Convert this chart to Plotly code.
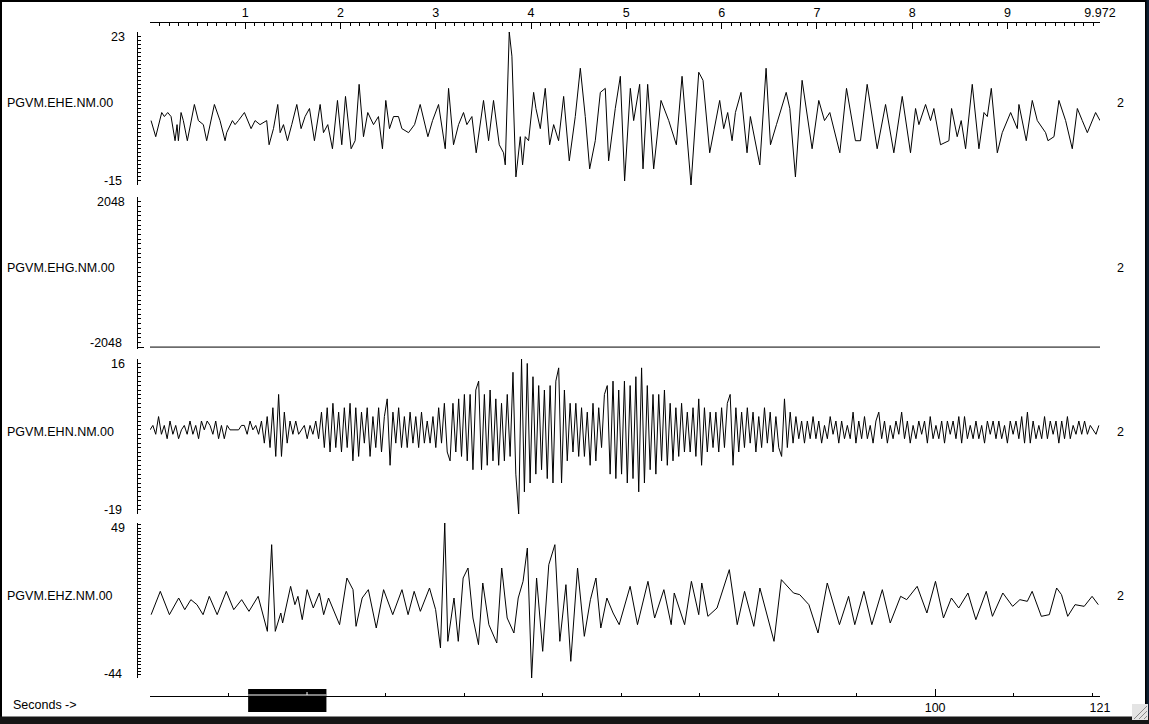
import plotly.graph_objects as go

# ---------------- data ----------------
channels = ["PGVM.EHE.NM.00", "PGVM.EHG.NM.00", "PGVM.EHN.NM.00", "PGVM.EHZ.NM.00"]
y_max = [23, 2048, 16, 49]
y_min = [-15, -2048, -19, -44]
right_labels = ["2", "2", "2", "2"]

duration = 9.972          # seconds shown
total_seconds = 121       # length of record
window_start = 12.5       # start of displayed window in record
top_ticks = [0, 1, 2, 3, 4, 5, 6, 7, 8, 9, 9.972]
top_tick_text = ["", "1", "2", "3", "4", "5", "6", "7", "8", "9", "9.972"]
half_ticks = [0.5, 1.5, 2.5, 3.5, 4.5, 5.5, 6.5, 7.5, 8.5, 9.5]
bottom_ticks = [0, 100, 121]
bottom_tick_text = ["", "100", "121"]

# EHE (extrema)
ehe_t = [0.011,0.060,0.123,0.151,0.186,0.221,0.263,0.284,0.298,0.326,0.350,0.392,0.466,0.508,0.560,0.595,0.676,0.735,0.788,0.805,
         0.865,0.893,0.928,0.991,1.061,1.103,1.155,1.225,1.250,1.296,1.341,1.366,1.401,1.443,1.488,1.541,1.586,1.628,1.674,1.726,
         1.786,1.821,1.866,1.915,1.968,1.996,2.013,2.052,2.111,2.153,2.195,2.241,2.286,2.346,2.398,2.440,2.475,2.514,2.556,2.608,
         2.644,2.714,2.777,2.836,2.917,2.966,3.029,3.099,3.134,3.186,3.239,3.291,3.326,3.379,3.424,3.501,3.554,3.606,3.666,3.711,
         3.729,3.771,3.799,3.841,3.887,3.911,3.939,3.974,4.027,4.051,4.097,4.149,4.195,4.237,4.289,4.342,4.401,4.464,4.517,4.569,
         4.615,4.674,4.727,4.779,4.814,4.884,4.937,4.982,
         5.042,5.077,5.105,5.140,5.175,5.224,5.287,5.364,5.445,5.497,
         5.525,5.585,5.679,5.760,5.805,5.875,5.980,6.022,6.064,6.110,
         6.145,6.204,6.267,6.302,6.401,6.467,6.513,6.576,6.678,6.716,
         6.775,6.845,6.950,7.020,7.080,7.136,7.241,7.311,7.405,7.458,
         7.528,7.633,7.721,7.808,7.896,7.983,8.036,8.071,8.141,8.193,
         8.228,8.298,8.386,8.414,8.473,8.515,8.561,8.631,8.701,8.754,
         8.789,8.831,8.894,8.946,9.034,9.104,9.121,9.198,9.261,9.314,
         9.401,9.426,9.489,9.541,9.611,9.681,9.734,9.786,9.839,9.926,
         9.972]
ehe_v = [1,-3,3,2,3,2,-4,0,-4,3, 1,-4,5,1,0,-4,5,1,-4,-2, 1,0,1,3,-1,1,0,1,-5,-1, 5,-2,0,-4,0,5,-1,2,4,-4,
         5,-2,0,-6,6,0,-5,7,-6,-4, 10,-3,3,0,2,-6,6,-1,2,2, -1,-2,0,5,-3,1,5,-6,9,-5, 0,3,0,2,-7,6,-4,6,-5,-7,
         -10,23,17,-13,-3,-10,-3,-4,8,4, -1,9,-5,0,-4,7,-9,2,14,2, -11,-4,8,9,-9,4,12,-14,
         9,1,5,10,-11,10,-11,6,1,-3,
         -5,12,-15,13,11,-7,6,-1,3,-4,
         3,8,-7,2,-10,14,-5,0,8,4,
         -13,11,-6,6,1,3,-7,9,-4,-4,
         10,-6,5,-7,7,-7,4,0,5,1,
         4,-5,-4,4,-3,1,-6,10,-6,3,
         2,9,-7,-2,3,-1,5,-4,6,1,
         -2,-4,-3,6,1,-6,4,1,-2,3,
         1]

# EHG (flat channel)
ehg_t = [0, 9.972]
ehg_v = [-2048, -2048]

# EHN (sampled every ehn_dt seconds)
ehn_dt = 0.03
ehn_v = [0,1,-1,3,-1,1,-2,2,-1,1,-2,0,1,-1,2,-1,1,-2,2,0,2,1,-1,2,-2,1,-2,1,0,0,0,0,1,
         1,-1,2,0,1,-1,2,-3,3,-4,5,-6,8,-6,4,-3,2,-1,2,-1,0,1,-2,1,-1,2,-2,4,-4,5,-5,6,-4,
         4,-5,5,-4,6,-7,5,-6,4,-3,5,-6,3,-4,5,-5,3,7,-8,4,-3,5,-4,3,-4,4,-3,3,-4,4,-3,2,-3,
         3,-4,5,-3,6,-5,-7,6,-5,7,-6,8,-7,8,-9,9,11,-9,8,-8,9,-7,7,-8,6,-7,8,-6,13,-10,-19,16,-14,
         15,-12,12,-10,10,-9,9,-11,10,-12,11,14,-12,9,-7,6,-5,6,-6,5,-6,4,-8,6,-7,5,-4,8,10,-10,11,-11,9,
         -10,11,-12,10,-11,12,-14,14,-12,10,-9,8,-10,8,-7,9,-8,6,-7,5,-6,6,-5,4,-5,5,-6,7,-8,5,-5,4,-4,
         4,-5,5,-4,6,8,-8,5,-5,4,-4,5,-3,4,-5,3,-4,5,-3,4,-5,3,-4,-6,7,-4,4,-3,3,-2,2,-3,2,
         -2,3,-2,2,-3,1,-2,3,-1,2,-3,2,-2,1,-2,4,-3,2,-2,3,-2,1,-3,2,4,-2,2,-3,1,-2,2,-1,4,
         -2,2,-3,1,-2,2,-1,2,-3,3,-2,1,-2,2,-3,2,-1,2,-2,3,-3,3,-2,1,-2,2,-2,1,-3,2,-1,2,-2,
         2,-2,1,-3,2,-1,2,-2,3,-3,4,-3,2,-2,1,-2,3,-2,2,-1,2,-3,2,-2,3,-2,1,-1,2,-1,2,-1,1,
         0,-1,1]
ehn_t = [i * ehn_dt for i in range(len(ehn_v))]

# EHZ (extrema)
ehz_t = [0.012,0.108,0.204,0.301,0.365,0.429,0.493,0.557,0.622,0.705,
         0.801,0.879,0.962,1.039,1.135,1.232,1.277,1.315,1.373,1.392,
         1.476,1.521,1.553,1.598,1.649,1.714,1.778,1.823,1.874,1.990,
         2.067,2.131,2.163,2.227,2.292,2.375,2.452,2.548,2.645,2.709,
         2.773,2.838,2.934,2.998,3.049,3.094,3.126,3.191,3.236,3.287,
         3.338,3.390,3.448,3.493,3.557,3.640,3.692,3.749,3.820,3.865,
         3.916,3.961,4.006,4.058,4.122,4.186,4.250,4.302,4.366,4.417,
         4.488,4.559,4.623,4.681,4.732,4.796,4.861,4.925,5.040,5.117,
         5.227,5.297,5.394,5.471,5.503,5.612,5.683,5.760,5.792,5.856,
         5.952,6.081,6.164,6.241,6.338,6.402,6.550,6.627,6.755,6.820,
         6.916,7.012,7.109,7.237,7.333,7.398,7.494,7.577,7.687,7.770,
         7.879,7.943,8.053,8.155,8.245,8.329,8.412,8.489,8.586,8.669,
         8.778,8.843,8.952,9.055,9.131,9.209,9.260,9.356,9.440,9.517,
         9.568,9.633,9.710,9.806,9.889,9.954]
ehz_v = [-6,8,-6,4,-3,3,0,-6,5,-6,
         8,-3,3,-4,5,-16,36,-16,-5,-11,
         11,0,5,-9,9,-2,7,-6,4,-12,
         16,9,-13,4,9,-14,9,-6,9,-6,
         8,-4,10,-3,-26,49,-22,4,-22,16,
         22,-8,-24,13,-12,-23,22,-8,-17,4,
         14,34,-44,16,-28,24,36,-22,12,-34,
         22,-19,3,16,-14,4,-5,-12,11,-12,
         14,-8,9,-12,7,-12,14,-6,13,-7,
         -2,21,-12,8,-13,10,-22,15,7,6,
         0,-17,13,-12,5,-12,8,-12,9,-11,
         5,3,11,-5,14,-8,4,-2,7,-9,
         8,-7,7,-1,3,2,8,-7,-6,10,
         6,-7,0,-1,5,0]

series_t = [ehe_t, ehg_t, ehn_t, ehz_t]
series_v = [ehe_v, ehg_v, ehn_v, ehz_v]

# ---------------- layout helpers ----------------
W, H = 1149, 724
def fx(px):
    return px / W
def fy(py):
    return 1 - py / H

FONT = "Liberation Sans, Arial, sans-serif"
FS = 12.5
x_dom = [fx(150), fx(1100)]
axis_x_pos = fx(137)
# panel pixel extents (top, bottom)
panel_px = [(32, 185), (197, 349), (359, 514), (523, 678)]
panel_range = [[-15, 23], [-2100, 2048], [-19, 16], [-44, 49]]
minor_step = [1, 128, 1, 2]
label_y = [103, 268, 432, 596]

fig = go.Figure()
layout = dict(
    template="none",
    width=W, height=H, autosize=False,
    margin=dict(l=0, r=0, t=0, b=0, pad=0, autoexpand=False),
    paper_bgcolor="white", plot_bgcolor="white", showlegend=False,
    font=dict(family=FONT, size=FS, color="black"),
)

annotations = []
for i in range(4):
    n = "" if i == 0 else str(i + 1)
    fig.add_trace(go.Scatter(x=series_t[i], y=series_v[i], mode="lines",
                             line=dict(color="black", width=1),
                             xaxis="x" + n, yaxis="y" + n, hoverinfo="skip"))
    top, bot = panel_px[i]
    layout["xaxis" + n] = dict(domain=x_dom, range=[0, duration], anchor="y" + n, automargin=False,
                               visible=False, showgrid=False, zeroline=False)
    layout["yaxis" + n] = dict(
        domain=[fy(bot), fy(top)], range=panel_range[i], anchor="free", position=axis_x_pos,
        automargin=False,
        showline=True, linecolor="black", linewidth=1, showgrid=False, zeroline=False,
        tickmode="array", tickvals=[y_min[i], y_max[i]], showticklabels=False,
        ticks="inside", ticklen=6, tickcolor="black", tickwidth=1,
        minor=dict(ticks="inside", ticklen=3, tickcolor="black", tickmode="linear",
                   tick0=0, dtick=minor_step[i], showgrid=False),
    )
    # axis extreme labels, tied to the axis values
    annotations.append(dict(x=fx(127), y=y_max[i], xref="paper", yref="y" + n, yshift=-5,
                            text=str(y_max[i]), showarrow=False, xanchor="right", yanchor="middle",
                            font=dict(family=FONT, size=FS, color="black")))
    annotations.append(dict(x=fx(124), y=y_min[i], xref="paper", yref="y" + n, yshift=4,
                            text=str(y_min[i]), showarrow=False, xanchor="right", yanchor="middle",
                            font=dict(family=FONT, size=FS, color="black")))
    annotations.append(dict(x=fx(5), y=fy(label_y[i]), xref="paper", yref="paper", text=channels[i],
                            showarrow=False, xanchor="left", yanchor="middle",
                            font=dict(family=FONT, size=FS, color="black")))
    annotations.append(dict(x=fx(1120), y=fy(label_y[i]), xref="paper", yref="paper", text=right_labels[i],
                            showarrow=False, xanchor="center", yanchor="middle",
                            font=dict(family=FONT, size=FS, color="black")))
annotations.append(dict(x=fx(11), y=fy(705), xref="paper", yref="paper", text="Seconds ->",
                        showarrow=False, xanchor="left", yanchor="middle",
                        font=dict(family=FONT, size=FS, color="black")))

# top time axis
fig.add_trace(go.Scatter(x=[0], y=[0], mode="markers", marker=dict(opacity=0),
                         xaxis="x5", yaxis="y5", hoverinfo="skip"))
layout["yaxis5"] = dict(domain=[fy(24), fy(23)], range=[0, 1], anchor="x5", visible=False, automargin=False)
layout["xaxis5"] = dict(domain=x_dom, range=[0, duration], anchor="y5", side="top", automargin=False,
                        showline=True, linecolor="black", linewidth=1, showgrid=False, zeroline=False,
                        tickmode="array", tickvals=top_ticks, ticktext=top_tick_text,
                        ticks="inside", ticklen=6, tickcolor="black",
                        tickfont=dict(family=FONT, size=FS, color="black"),
                        minor=dict(ticks="inside", ticklen=3, tickcolor="black", tickmode="linear",
                                   tick0=0, dtick=0.1, showgrid=False))
layout["xaxis6"] = dict(domain=x_dom, range=[0, duration], anchor="y5", overlaying="x5", side="top",
                        automargin=False, showline=False, showgrid=False, zeroline=False,
                        tickmode="array", tickvals=half_ticks, showticklabels=False,
                        ticks="inside", ticklen=4, tickcolor="black")

# bottom record axis
fig.add_trace(go.Scatter(x=[0], y=[0], mode="markers", marker=dict(opacity=0),
                         xaxis="x7", yaxis="y7", hoverinfo="skip"))
layout["yaxis7"] = dict(domain=[fy(696), fy(695)], range=[0, 1], anchor="x7", visible=False, automargin=False)
layout["xaxis7"] = dict(domain=x_dom, range=[0, total_seconds], anchor="y7", side="bottom", automargin=False,
                        showline=True, linecolor="black", linewidth=1, showgrid=False, zeroline=False,
                        tickmode="array", tickvals=bottom_ticks, ticktext=bottom_tick_text,
                        ticks="inside", ticklen=7, tickcolor="black",
                        tickfont=dict(family=FONT, size=FS, color="black"),
                        minor=dict(ticks="inside", ticklen=3, tickcolor="black", tickmode="linear",
                                   tick0=0, dtick=10, showgrid=False))
layout["annotations"] = annotations

shapes = [
    # window indicator on record axis
    dict(type="rect", xref="x7", yref="paper", x0=window_start, x1=window_start + duration,
         y0=fy(712), y1=fy(689), fillcolor="black", line=dict(width=0), layer="above"),
    dict(type="line", xref="x7", yref="paper", x0=window_start, x1=window_start + duration,
         y0=fy(695), y1=fy(695), line=dict(color="white", width=1), layer="above"),
    dict(type="line", xref="x7", yref="paper", x0=20, x1=20,
         y0=fy(695), y1=fy(692), line=dict(color="white", width=1), layer="above"),
    # window frame
    dict(type="rect", xref="paper", yref="paper", x0=0, x1=fx(2), y0=0, y1=1,
         fillcolor="black", line=dict(width=0), layer="above"),
    dict(type="rect", xref="paper", yref="paper", x0=0, x1=1, y0=fy(2), y1=1,
         fillcolor="black", line=dict(width=0), layer="above"),
    dict(type="rect", xref="paper", yref="paper", x0=fx(1145), x1=1, y0=0, y1=1,
         fillcolor="#0c1e30", line=dict(width=0), layer="above"),
    dict(type="rect", xref="paper", yref="paper", x0=fx(1145), x1=fx(1146.5), y0=fy(716), y1=1,
         fillcolor="#000000", line=dict(width=0), layer="above"),
    dict(type="rect", xref="paper", yref="paper", x0=0, x1=1, y0=0, y1=fy(716.5),
         fillcolor="#161616", line=dict(width=0), layer="above"),
    # resize grip
    dict(type="rect", xref="paper", yref="paper", x0=fx(1132), x1=fx(1148), y0=fy(720), y1=fy(704),
         fillcolor="#e4e4e4", line=dict(width=0), layer="above"),
]
for k in (0, 5, 10):
    shapes.append(dict(type="line", xref="paper", yref="paper", x0=fx(1134 + k), x1=fx(1147),
                       y0=fy(719), y1=fy(706 + k), line=dict(color="#8a8a8a", width=1), layer="above"))
layout["shapes"] = shapes

fig.update_layout(**layout)
post = "document.body.style.margin='0';document.body.style.overflow='hidden';"
fig.write_html("out.html", config={"displayModeBar": False, "responsive": False}, post_script=post)
